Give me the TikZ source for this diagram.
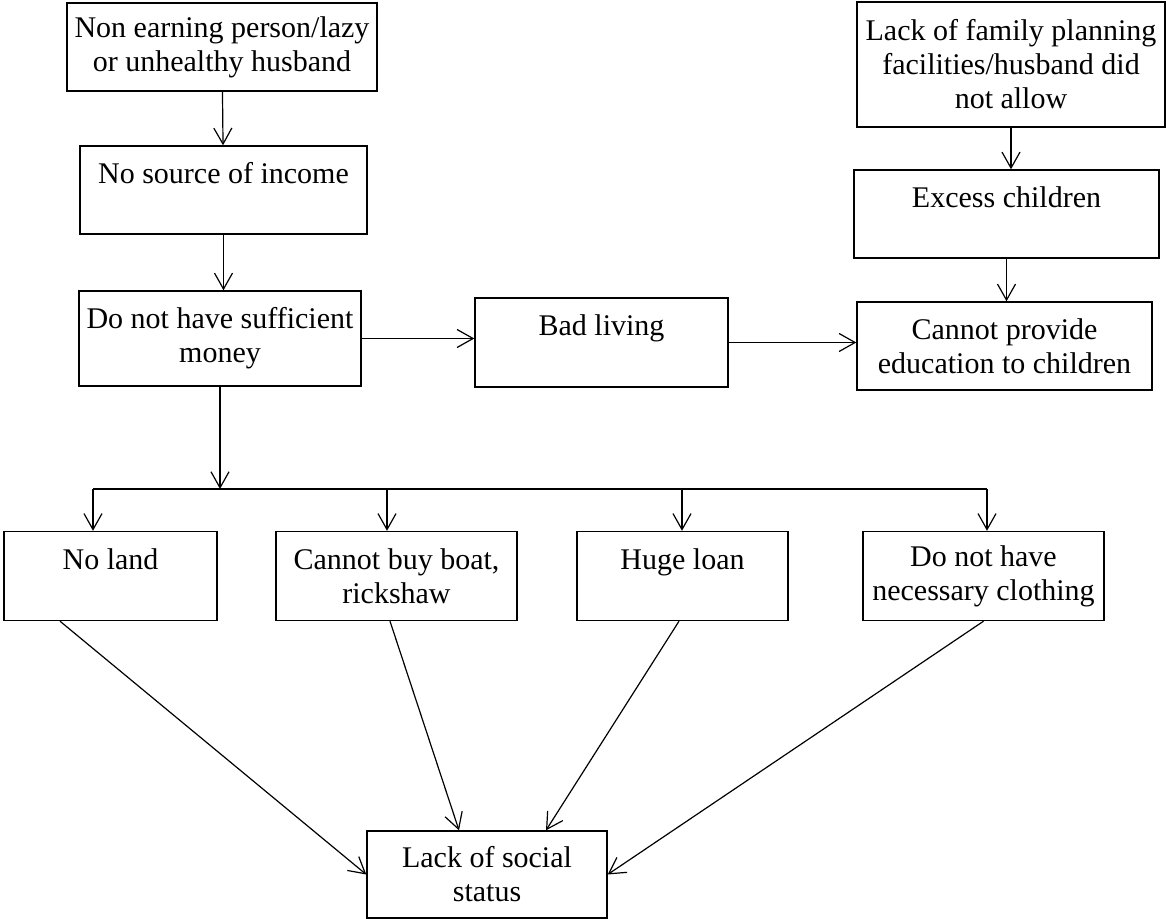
\documentclass[tikz,border=0pt]{standalone}
\usepackage{fontspec}
\setmainfont{Liberation Serif}
\usepackage{tikz}
\usetikzlibrary{arrows.meta,positioning,calc}

\begin{document}
\begin{tikzpicture}[
  x=0.5pt,y=-0.5pt,
  font=\fontsize{15}{17}\selectfont,
  box/.style={draw,line width=0.7pt,align=center,inner sep=0pt},
  arr/.style={-{Straight Barb[length=8pt,width=9pt]},line width=0.6pt},
  bus/.style={line width=0.6pt}
]
\useasboundingbox (0,0) rectangle (1166,919);
% top chain
\node[box,minimum width=155pt,minimum height=44pt] (earn) at (222,47) {Non earning person/lazy\\or unhealthy husband};
\node[box,minimum width=143.5pt,minimum height=44pt] (income) at (223.5,190) {No source of income\\~};
\node[box,minimum width=141pt,minimum height=47.5pt] (money) at (220,338.5) {Do not have sufficient\\money};
\node[box,minimum width=126.5pt,minimum height=44.5pt] (living) at (601.5,342.5) {Bad living\\~};
\node[box,minimum width=154pt,minimum height=62.5pt] (plan) at (1011,64.5) {Lack of family planning\\facilities/husband did\\not allow};
\node[box,minimum width=152.5pt,minimum height=44pt] (excess) at (1006.5,214) {Excess children\\~};
\node[box,minimum width=147.5pt,minimum height=44pt] (edu) at (1004.5,346) {Cannot provide\\education to children};
% bottom row
\node[box,minimum width=106.5pt,minimum height=44.5pt] (land) at (110.5,576) {No land\\~};
\node[box,minimum width=120.5pt,minimum height=44.5pt] (boat) at (396.5,576) {Cannot buy boat,\\rickshaw};
\node[box,minimum width=105.5pt,minimum height=44.5pt] (loan) at (682.5,576) {Huge loan\\~};
\node[box,minimum width=120.5pt,minimum height=44.5pt] (cloth) at (983.5,576) {Do not have\\necessary clothing};
\node[box,minimum width=120pt,minimum height=43.5pt] (status) at (487,874.5) {Lack of social\\status};
% bus taps
\coordinate (split) at (220,489);
\coordinate (tland) at (93,489);
\coordinate (tboat) at (387,489);
\coordinate (tloan) at (682,489);
\coordinate (tcloth) at (987,489);

\draw[arr] (earn) -- (income);
\draw[arr] (income.south) -- (income.south |- money.north);
\draw[arr] (money.east) -- (money.east -| living.west);
\draw[arr] (living.east) -- (living.east -| edu.west);
\draw[arr] (plan.south) -- (plan.south |- excess.north);
\draw[arr] (excess.south) -- (excess.south |- edu.north);
\draw[arr] (money.south) -- (split);
\draw[bus] (tland) -- (tcloth);
\draw[arr] (tland) -- (tland |- land.north);
\draw[arr] (tboat) -- (tboat |- boat.north);
\draw[arr] (tloan) -- (tloan |- loan.north);
\draw[arr] (tcloth) -- (tcloth |- cloth.north);
\draw[arr] ($(land.south)+(-50.5,0)$) -- (status.west);
\draw[arr] ($(boat.south)+(-6.5,0)$) -- ($(status.north)+(-28,0)$);
\draw[arr] ($(loan.south)+(-3.5,0)$) -- ($(status.north)+(59,0)$);
\draw[arr] (cloth.south) -- (status.east);
\end{tikzpicture}
\end{document}
